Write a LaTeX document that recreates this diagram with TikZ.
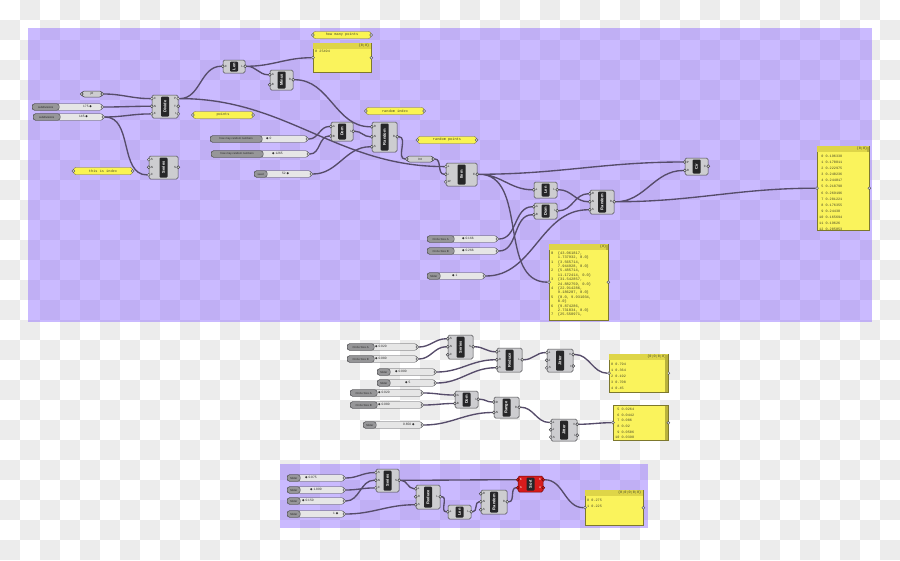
\documentclass[tikz,border=0pt]{standalone}
\usepackage{fontspec}
\setmainfont{Liberation Sans}
\newfontfamily\monofont{Liberation Mono}
\newfontfamily\symfont{DejaVu Sans}
\usetikzlibrary{calc}

%Colours
\definecolor{chk}{RGB}{236,236,236}
\definecolor{lavender}{RGB}{139,102,255}
\definecolor{wirec}{RGB}{86,76,106}
\definecolor{compfill}{RGB}{205,205,208}
\definecolor{compline}{RGB}{72,72,76}
\definecolor{corefill}{RGB}{38,38,40}
\definecolor{portfill}{RGB}{212,212,214}
\definecolor{pintext}{RGB}{40,40,40}
\definecolor{slfill}{RGB}{230,230,230}
\definecolor{sllab}{RGB}{150,150,152}
\definecolor{tagfill}{RGB}{250,244,82}
\definecolor{tagline}{RGB}{125,120,45}
\definecolor{tagtext}{RGB}{70,70,40}
\definecolor{panelfill}{RGB}{250,243,92}
\definecolor{panelhd}{RGB}{222,213,72}
\definecolor{panelbar}{RGB}{185,178,60}
\definecolor{sortred}{RGB}{215,28,28}
\definecolor{sortline}{RGB}{110,10,10}

\pgfdeclarelayer{bg}
\pgfdeclarelayer{wires}
\pgfsetlayers{bg,wires,main}

\newcommand{\grip}{{\symfont\char"25C6}}

\tikzset{
  wire/.style={draw=wirec, line width=1.35pt, out=0, in=180},
  ghbody/.style={draw=compline, fill=compfill, rounded corners=1.5pt, line width=0.5pt, inner sep=0pt},
  ghcore/.style={fill=corefill, rounded corners=1pt, text=white, inner sep=0pt, minimum height=8pt, font=\fontsize{4}{4}\selectfont\bfseries},
  ghport/.style={circle, draw=compline, fill=portfill, line width=0.4pt, inner sep=0pt, minimum size=3pt},
  ghpin/.style={inner sep=0pt, text=pintext, font=\fontsize{3}{3}\selectfont},
  param/.style={draw=compline, fill=compfill, rounded corners=2.5pt, line width=0.5pt, inner sep=0pt, minimum height=6pt, text=pintext, font=\fontsize{3.2}{3.2}\selectfont},
  slbody/.style={draw=compline, fill=slfill, rounded corners=2.5pt, line width=0.4pt, inner sep=0pt, minimum height=6.5pt},
  sllabel/.style={draw=compline, fill=sllab, rounded corners=2.5pt, line width=0.4pt, inner sep=0pt, minimum height=6.5pt, text=pintext, font=\fontsize{2.8}{2.8}\selectfont},
  sltext/.style={inner sep=0pt, text=pintext, font=\fontsize{3.2}{3.2}\selectfont},
  tag/.style={draw=tagline, fill=tagfill, rounded corners=2.5pt, line width=0.4pt, inner sep=0pt, minimum height=7pt, text=tagtext, font=\monofont\fontsize{3.6}{3.6}\selectfont},
  panelbox/.style={draw=tagline, fill=panelfill, line width=0.4pt, inner sep=0pt},
  paneltext/.style={inner sep=0pt, text=tagtext, align=left, font=\monofont\fontsize{3.5}{6}\selectfont},
  lav/.style={fill=lavender, fill opacity=0.45},
}

%Component: name, centre, width, height, label, #in, inputs, #out, outputs
\newcommand{\ghcomp}[9]{%
  \node[ghbody, minimum width=#3, minimum height=#4] (#1) at (#2) {};
  \node[ghcore, minimum width=#4-3, rotate=90] at (#1.center) {#5};
  \foreach \pin [count=\idx] in {#7}{%
    \node[ghport] (#1-i\idx) at ($(#1.north west)+(0,{#4*(\idx-0.5)/#6})$) {};
    \node[ghpin, anchor=west] at ([xshift=2pt]#1-i\idx.center) {\pin};
  }
  \foreach \pin [count=\idx] in {#9}{%
    \node[ghport] (#1-o\idx) at ($(#1.north east)+(0,{#4*(\idx-0.5)/#8})$) {};
    \node[ghpin, anchor=east] at ([xshift=-2pt]#1-o\idx.center) {\pin};
  }
}
%Slider: name, left end, width, label, label width, value, value offset
\newcommand{\ghslider}[7]{%
  \node[slbody, minimum width=#3, anchor=west] (#1) at (#2) {};
  \node[sllabel, minimum width=#5, anchor=west] at (#1.west) {#4};
  \node[sltext, anchor=west] at ([xshift=#7]#1.west) {#6};
  \node[ghport] (#1-o) at (#1.east) {};
}
%Yellow tag: name, centre, width, text
\newcommand{\ghtag}[4]{%
  \node[tag, minimum width=#3] (#1) at (#2) {#4};
  \node[ghport] at (#1.west) {};
  \node[ghport] at (#1.east) {};
}
%Panel: name, north west, width, height, header, rows
\newcommand{\ghpanel}[6]{%
  \node[panelbox, minimum width=#3, minimum height=#4, anchor=north west] (#1) at (#2) {};
  \fill[panelhd] ([shift={(0.3pt,-0.3pt)}]#1.north west) rectangle ([shift={(-0.3pt,-6pt)}]#1.north east);
  \node[paneltext, anchor=north east] at ([shift={(-2pt,-1.2pt)}]#1.north east) {#5};
  \node[paneltext, anchor=north west] at ([shift={(2pt,-7pt)}]#1.north west) {#6};
  \node[ghport] (#1-i) at (#1.west) {};
  \node[ghport] at (#1.east) {};
}

\begin{document}
\begin{tikzpicture}[x=1pt,y=-1pt]
\useasboundingbox (0,0) rectangle (900,560);

%Checker background and groups
\begin{pgfonlayer}{bg}
\fill[white] (0,0) rectangle (900,560);
\foreach \i in {0,...,44}
  \foreach \j in {0,...,27}{
    \pgfmathtruncatemacro\chkodd{mod(\i+\j,2)}
    \ifnum\chkodd=1 \fill[chk] (20*\i,20*\j) rectangle ++(20,20); \fi
  }
\fill[lav] (28,28) rectangle (872,322);
\fill[lav] (280,464) rectangle (648,528);
\end{pgfonlayer}

%Top group: tags
\ghtag{tHmp}{342,35}{58}{how many points}
\ghtag{tPts}{223,115}{60}{points}
\ghtag{tIdx}{103,171}{59}{this is index}
\ghtag{tRi}{395,111}{58}{random index}
\ghtag{tRp}{447,140}{59}{random points}

%Top group: inputs
\node[param, minimum width=20] (pt) at (92,94) {pt};
\node[ghport] (pt-o) at (pt.east) {};
\node[ghport] at (pt.west) {};
\ghslider{s175}{32,107}{70}{subdivisions}{27}{175 \grip}{51}
\ghslider{s145}{33,117}{70}{subdivisions}{27}{145 \grip}{46}
\ghslider{hr0}{210,139}{97}{how may random numbers}{52}{\grip\ 0}{56}
\ghslider{hr1}{211,154}{97}{how may random numbers}{52}{\grip\ 1265}{61}
\ghslider{seed}{254,174}{57}{seed}{13}{52 \grip}{28}
\ghslider{csa}{427,239}{70}{Circle Size A}{27}{\grip\ 0.166}{35}
\ghslider{csb}{427,251}{70}{Circle Size B}{27}{\grip\ 0.266}{35}
\ghslider{sl1}{427,276}{57}{Slider}{13}{\grip\ 1}{25}

%Top group: components
\ghcomp{div}{165,106.5}{26}{23}{Divide}{3}{C,N,K}{3}{P,T,t}
\ghcomp{len}{234,66.5}{22}{13}{Len}{1}{C}{1}{L}
\ghcomp{minus}{281.5,80}{23}{20}{Minus}{2}{A,B}{1}{R}
\ghcomp{ser}{163.5,167.5}{29}{23}{Series}{3}{S,N,C}{1}{S}
\ghcomp{dom}{342,131.5}{22}{19}{Dom}{2}{A,B}{1}{I}
\ghcomp{rnd}{384.5,137}{25}{30}{Random}{3}{R,N,S}{1}{R}
\node[param, minimum width=26] (int) at (420,159) {Int};
\node[ghport] (int-i) at (int.west) {};
\node[ghport] (int-o) at (int.east) {};
\ghcomp{item}{461.5,174.5}{31}{23}{Item}{3}{L,i,W}{1}{E}
\ghcomp{lenb}{545.5,190}{23}{16}{Len}{1}{L}{1}{L}
\ghcomp{domb}{545.5,211}{23}{16}{Dom}{2}{A,B}{1}{I}
\ghcomp{rndb}{602,202}{24}{24}{Random}{3}{R,N,S}{1}{R}
\ghcomp{cir}{696.5,166.5}{23}{17}{Cir}{2}{P,R}{1}{C}

%Top group: panels
\ghpanel{hmp}{313,43}{58}{29}{\{0;0\}}{0 25494}
\ghpanel{ptl}{549,244}{59}{76}{\{0\}}{{\fontsize{3.7}{4.4}\selectfont
\begin{tabular}{@{}r@{\ \ }l@{}}
0&\{43.061817,\\ &1.737932, 0.0\}\\
1&\{3.565714,\\ &7.944928, 0.0\}\\
2&\{5.485714,\\ &11.172414, 0.0\}\\
3&\{31.542857,\\ &24.882759, 0.0\}\\
4&\{22.914286,\\ &9.186207, 0.0\}\\
5&\{0.0, 9.931034,\\ &0.0\}\\
6&\{9.874286,\\ &2.731034, 0.0\}\\
7&\{25.558971,
\end{tabular}}}
\fill[panelbar] ([shift={(-2.5pt,-0.5pt)}]ptl.north east) rectangle ([shift={(-0.5pt,-5.5pt)}]ptl.north east);
\ghpanel{rad}{817,146}{52}{84}{\{0;0\}}{{\fontsize{3.5}{6.1}\selectfont
\begin{tabular}{@{}r@{\ }l@{}}
0&0.196338\\ 1&0.170811\\ 2&0.222975\\ 3&0.240236\\ 4&0.244017\\
5&0.218798\\ 6&0.269196\\ 7&0.281221\\ 8&0.176355\\ 9&0.24438\\
10&0.165694\\ 11&0.19626\\ 12&0.205053
\end{tabular}}}
\fill[panelbar] ([shift={(-2.5pt,-0.5pt)}]rad.north east) rectangle ([shift={(-0.5pt,-5.5pt)}]rad.north east);

%Middle group
\ghslider{mcsa}{347,347}{70}{Circle Size A}{27}{\grip\ 0.020}{28}
\ghslider{mcsb}{347,359}{70}{Circle Size B}{27}{\grip\ 0.080}{28}
\ghslider{ms0}{377,372}{58}{Slider}{13}{\grip\ 0.000}{18}
\ghslider{ms5}{377,383}{58}{Slider}{13}{\grip\ 5}{28}
\ghslider{mcsc}{350,393}{72}{Circle Size A}{27}{\grip\ 0.020}{28}
\ghslider{mcsd}{350,405}{72}{Circle Size B}{27}{\grip\ 0.080}{28}
\ghslider{ms650}{363,425}{59}{Slider}{13}{0.650 \grip}{40}
\ghcomp{mser}{460.5,347}{25}{24}{Series}{3}{S,N,C}{1}{S}
\ghcomp{mred}{509.5,360}{25}{24}{Reduce}{3}{L,R,S}{1}{L}
\ghcomp{mjit}{560,360.5}{26}{23}{Jitter}{3}{L,J,S}{2}{V,I}
\ghcomp{mdom}{466.5,399.5}{23}{17}{Dom}{2}{A,B}{1}{I}
\ghcomp{mrng}{506.5,407.5}{25}{21}{Range}{2}{D,N}{1}{R}
\ghcomp{mjitb}{564,430}{26}{22}{Jitter}{3}{L,J,S}{2}{V,I}
\ghpanel{mpa}{609,354}{59}{38}{\{0;0;0;0\}}{{\fontsize{3.5}{6}\selectfont
\begin{tabular}{@{}r@{\ }l@{}}
0&0.794\\ 1&0.364\\ 2&0.192\\ 3&0.708\\ 4&0.45
\end{tabular}}}
\fill[panelbar] ([shift={(-3pt,-0.5pt)}]mpa.north east) rectangle ([shift={(-0.5pt,0.5pt)}]mpa.south east);
\node[panelbox, minimum width=55, minimum height=35, anchor=north west] (mpb) at (613,405) {};
\node[paneltext, anchor=north west] at ([shift={(2pt,-1.5pt)}]mpb.north west) {{\fontsize{3.5}{5.6}\selectfont
\begin{tabular}{@{}r@{\ }l@{}}
5&0.0264\\ 6&0.0442\\ 7&0.086\\ 8&0.02\\ 9&0.0506\\ 10&0.0398
\end{tabular}}};
\fill[panelbar] ([shift={(-3pt,-0.5pt)}]mpb.north east) rectangle ([shift={(-0.5pt,0.5pt)}]mpb.south east);
\node[ghport] (mpb-i) at (mpb.west) {};
\node[ghport] at (mpb.east) {};

%Bottom group
\ghslider{bs1}{287,478}{57}{Slider}{13}{\grip\ 0.075}{18}
\ghslider{bs2}{287,490}{57}{Slider}{13}{\grip\ 1.800}{23}
\ghslider{bs3}{287,501}{57}{Slider}{13}{\grip\ 0.150}{15}
\ghslider{bs4}{287,514}{57}{Slider}{13}{1 \grip}{46}
\ghcomp{bser}{387.5,480.5}{23}{23}{Series}{3}{S,N,C}{1}{S}
\ghcomp{bred}{428,497}{24}{24}{Reduce}{3}{L,R,S}{1}{L}
\ghcomp{blen}{459.5,512}{23}{14}{Len}{1}{L}{1}{L}
\ghcomp{brnd}{494,502}{26}{24}{Random}{3}{R,N,S}{1}{R}
\begin{scope}[ghbody/.append style={fill=sortred, draw=sortline},
  ghport/.append style={fill=sortred, draw=sortline}, ghpin/.append style={text=white}]
\ghcomp{sort}{530.5,484}{25}{16}{Sort}{2}{K,A}{2}{K,A}
\end{scope}
\ghpanel{bpan}{585,490}{58}{35}{\{0;0;0;0;0\}}{{\fontsize{3.5}{6}\selectfont
\begin{tabular}{@{}r@{\ }l@{}}
0&0.275\\ 1&0.225
\end{tabular}}}

%Wires
\begin{pgfonlayer}{wires}
\draw[wire] (pt-o) to (div-i1) (s175-o) to (div-i2) (s145-o) to (div-i3);
\draw[wire] (s145-o) to (ser-i3);
\draw[wire] (div-o1) to (len-i1) (div-o1) to (item-i1);
\draw[wire] (len-o1) to (hmp-i) (len-o1) to (minus-i1);
\draw[wire] (minus-o1) to (rnd-i1) (dom-o1) to (rnd-i2) (seed-o) to (rnd-i3);
\draw[wire] (hr0-o) to (dom-i1) (hr1-o) to (dom-i2);
\draw[wire] (rnd-o1) to (int-i) (int-o) to (item-i2);
\draw[wire] (item-o1) to (cir-i1) (item-o1) to (lenb-i1) (item-o1) to (ptl-i);
\draw[wire] (csa-o) to (domb-i1) (csb-o) to (domb-i2);
\draw[wire] (domb-o1) to (rndb-i1) (lenb-o1) to (rndb-i2) (sl1-o) to (rndb-i3);
\draw[wire] (rndb-o1) to (cir-i2) (rndb-o1) to (rad-i);
\draw[wire] (mcsa-o) to (mser-i1) (mcsb-o) to (mser-i2);
\draw[wire] (mser-o1) to (mred-i1) (ms0-o) to (mred-i2) (ms5-o) to (mred-i3);
\draw[wire] (mred-o1) to (mjit-i1) (mjit-o1) to (mpa-i);
\draw[wire] (mcsc-o) to (mdom-i1) (mcsd-o) to (mdom-i2);
\draw[wire] (mdom-o1) to (mrng-i1) (ms650-o) to (mrng-i2);
\draw[wire] (mrng-o1) to (mjitb-i1) (mjitb-o1) to (mpb-i);
\draw[wire] (bs1-o) to (bser-i1) (bs3-o) to (bser-i2) (bs2-o) to (bser-i3);
\draw[wire] (bser-o1) to (bred-i1) (bs4-o) to (bred-i3) (bser-o1) to (sort-i1);
\draw[wire] (bred-o1) to (blen-i1) (blen-o1) to (brnd-i2) (brnd-o1) to (sort-i2);
\draw[wire] (sort-o1) to (bpan-i);
\end{pgfonlayer}
\end{tikzpicture}
\end{document}
